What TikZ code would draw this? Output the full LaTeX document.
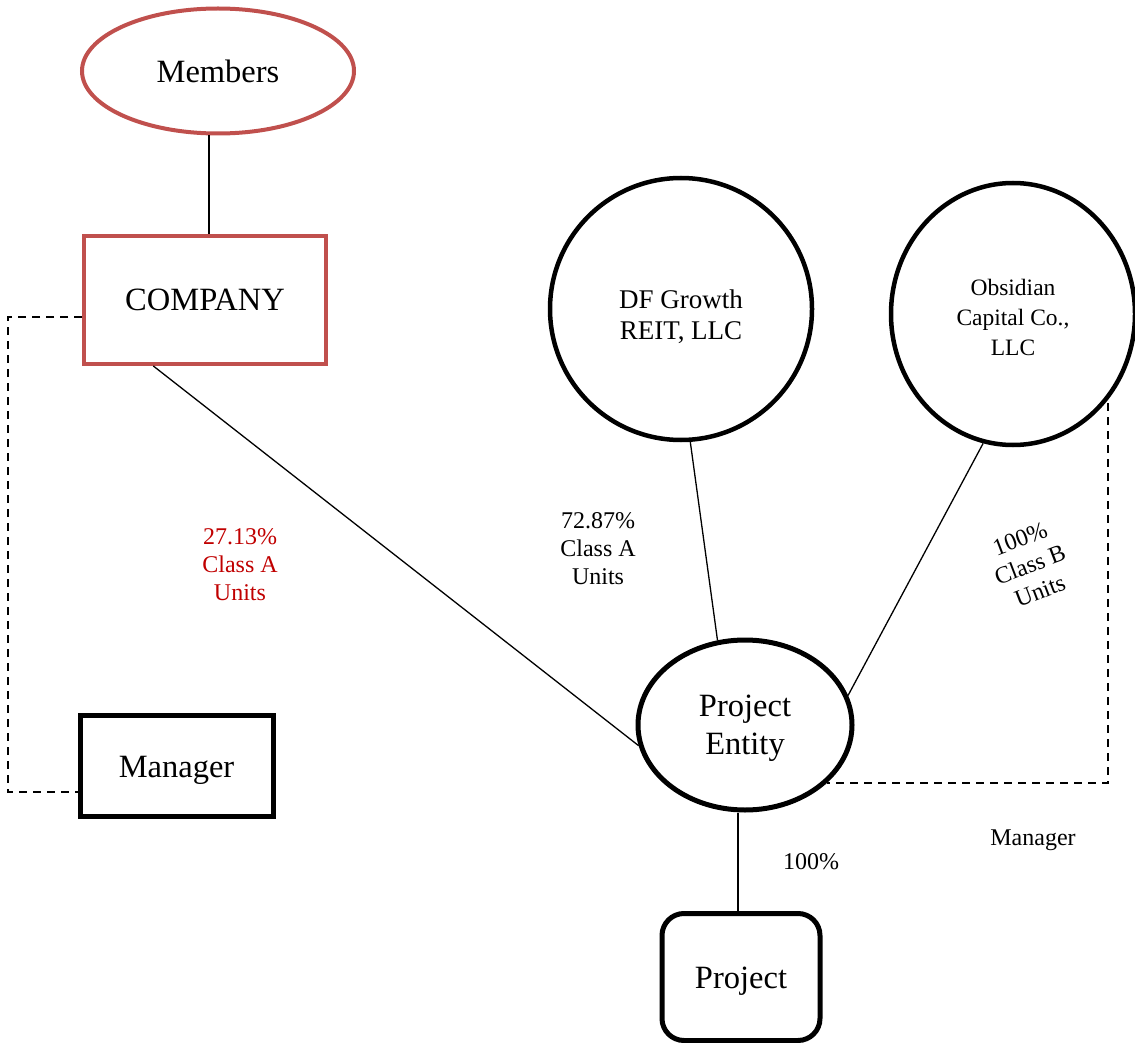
\documentclass[tikz,border=0pt]{standalone}
\usepackage{fontspec}
\setmainfont{Liberation Serif}
\usepackage{tikz}
\usetikzlibrary{arrows.meta, positioning, shapes.geometric, calc}

\definecolor{boxred}{RGB}{192,80,77}
\definecolor{unitred}{RGB}{192,0,0}

\begin{document}
\begin{tikzpicture}[
    x=1pt, y=-1pt,
    bigtext/.style={font=\fontsize{32.5}{38}\selectfont, align=center, inner sep=0pt},
    oval/.style={ellipse, draw, line width=4.5pt, bigtext},
    roundbox/.style={circle, draw, line width=4.5pt, inner sep=0pt, minimum size=262pt, font=\fontsize{23.5}{30}\selectfont, align=center},
    box/.style={rectangle, draw, line width=5pt, bigtext},
    lbl/.style={font=\fontsize{24}{28}\selectfont, align=center, inner sep=0pt},
    link/.style={line width=1.3pt},
    dashlink/.style={line width=2pt, dash pattern=on 8pt off 6pt}
]
    \useasboundingbox (0,0) rectangle (1135,1043);

    \node[oval, draw=boxred, line width=4pt, minimum width=272pt, minimum height=125pt] (members) at (218,71) {Members};
    \node[box, draw=boxred, line width=4pt, minimum width=242pt, minimum height=128pt] (company) at (205,300) {COMPANY};
    \node[box, minimum width=193pt, minimum height=101pt, text height=24pt, text depth=0pt] (mgr) at (176.5,765.5) {Manager};

    \node[roundbox, font=\fontsize{27}{31}\selectfont, text height=60pt, text depth=0pt] (df) at (681,309) {DF Growth\\REIT, LLC};
    \node[roundbox, minimum size=0pt, ellipse, minimum width=244pt, minimum height=262pt, text height=82pt, text depth=0pt] (obs) at (1013,314) {Obsidian\\Capital Co.,\\LLC};

    \node[oval, line width=5pt, minimum width=214pt, minimum height=170pt, text depth=-3pt] (pe) at (745,725) {Project\\Entity};
    \node[box, rounded corners=22pt, minimum width=158pt, minimum height=127pt, text height=22pt, text depth=0pt] (proj) at (741,977) {Project};

    % ownership lines
    \draw[link] ([xshift=-9pt]members.south) -- ([xshift=-9pt]members.south |- company.north);
    \draw[link] ($(company.south west)!0.29!(company.south east)$) -- (pe.191);
    \draw[link] (df.-86) -- (pe.108);
    \draw[link] (obs.-103) -- (pe.16);
    \draw[link] ([xshift=-7pt]pe.south) -- ([xshift=-3pt]proj.north);

    % manager links
    \draw[dashlink] (company.-172) -- ++(-74,0) |- (mgr.195);
    \draw[dashlink] ([xshift=3pt]obs.-44) |- (pe.-35);

    % labels
    \node[lbl, text=unitred] (pctcompany) at (240,565) {27.13\%\\Class A\\Units};
    \node[lbl] (pctdf) at (598,549) {72.87\%\\Class A\\Units};
    \node[lbl, rotate=21] (pctobs) at (1030,565) {100\%\\Class B\\Units};
    \node[lbl] (mgrlabel) at (1033,840) {Manager};
    \node[lbl] (pctproj) at (811,862) {100\%};
\end{tikzpicture}
\end{document}
